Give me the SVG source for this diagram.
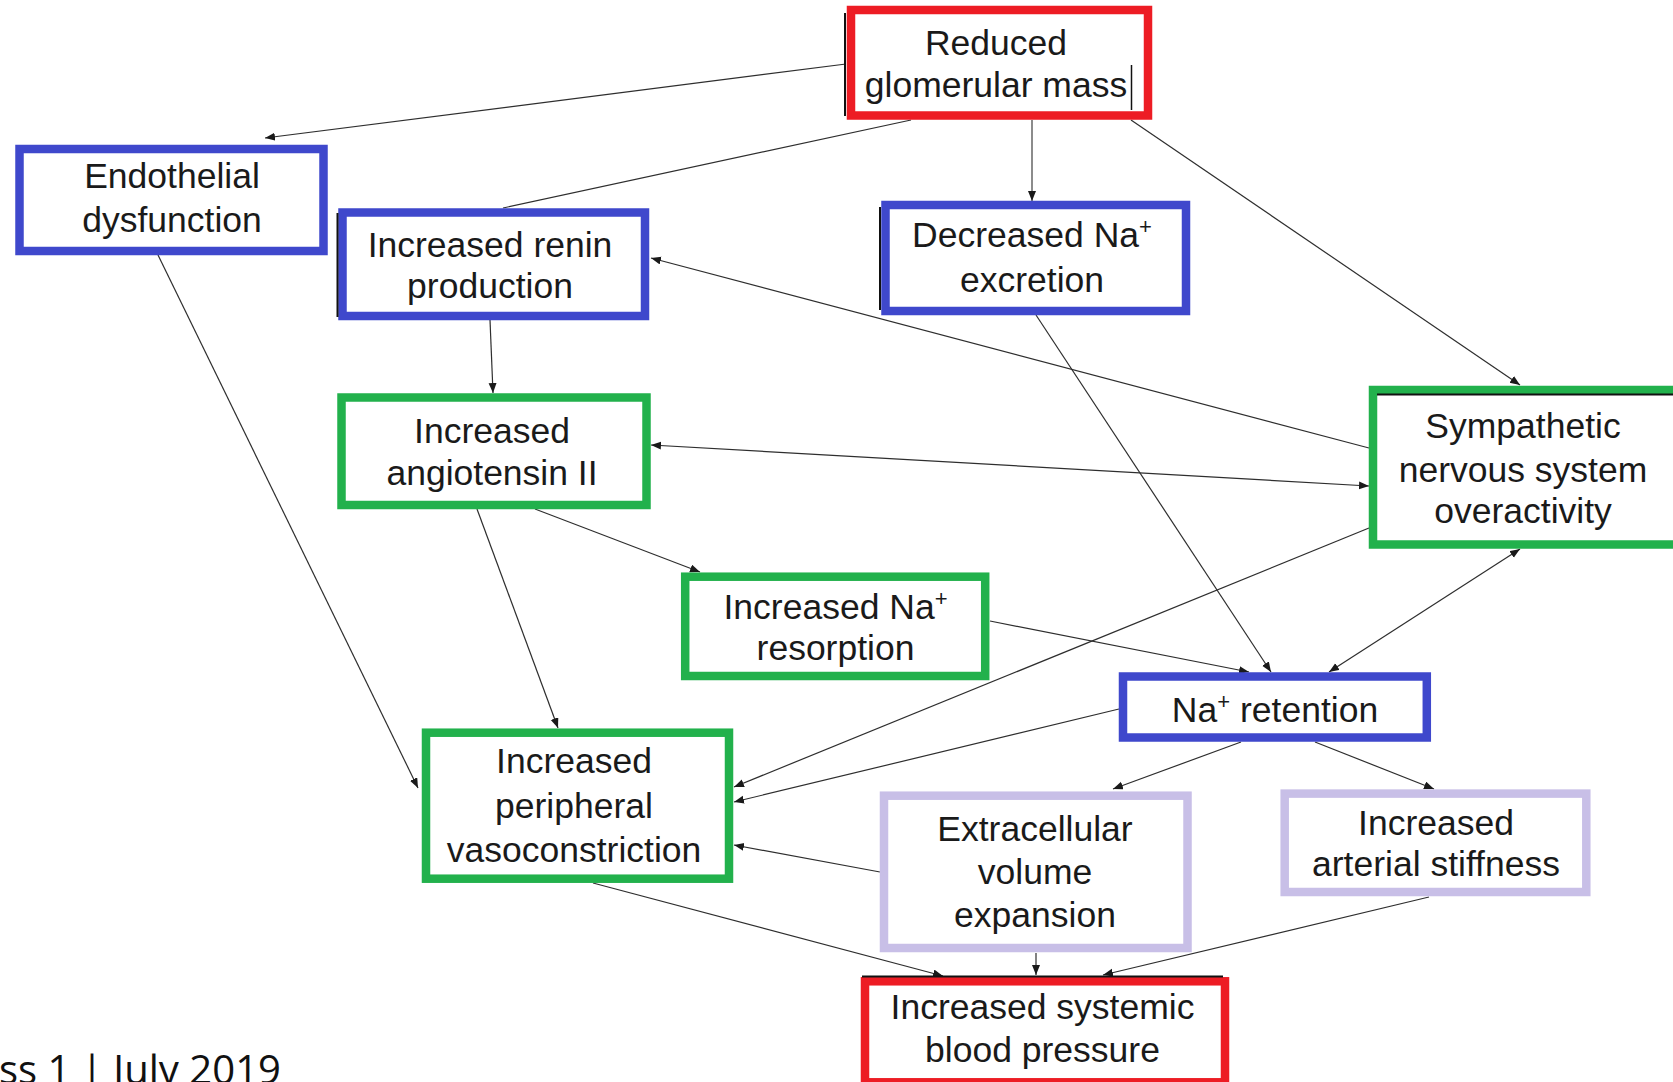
<svg xmlns="http://www.w3.org/2000/svg" width="1673" height="1082" viewBox="0 0 1673 1082">
<style>
  .box { fill: #ffffff; stroke-width: 8.5; }
  .red { stroke: #ed1c24; }
  .blue { stroke: #3f48cc; }
  .green { stroke: #22b14c; }
  .lav { stroke: #c8bfe7; }
  .lbl { font-family: "Liberation Sans", Arial, sans-serif; font-size: 35.5px; fill: #1a1a1a; text-anchor: middle; }
  .sup { font-size: 22px; }
  .edge { stroke: #2e2e2e; stroke-width: 1.2; fill: none; }
  .mark { stroke: #111; stroke-width: 2; }
</style>
<defs>
  <marker id="arr" markerUnits="userSpaceOnUse" markerWidth="11" markerHeight="9" refX="10" refY="4" orient="auto-start-reverse">
    <path d="M0,0 L10,4 L0,8 z" fill="#1a1a1a"/>
  </marker>
</defs>
<rect width="1673" height="1082" fill="#ffffff"/>

<g id="connectors">
  <line class="edge" x1="846" y1="64" x2="265" y2="138" marker-end="url(#arr)"/>
  <line class="edge" x1="911" y1="120" x2="503" y2="208"/>
  <line x1="1032" y1="120" x2="1032" y2="201" stroke="#8c8c8c" stroke-width="2" marker-end="url(#arr)"/>
  <line class="edge" x1="1131" y1="120" x2="1520" y2="385" marker-end="url(#arr)"/>
  <line class="edge" x1="158" y1="255" x2="418" y2="788" marker-end="url(#arr)"/>
  <line class="edge" x1="490" y1="320" x2="493" y2="393" marker-end="url(#arr)"/>
  <line class="edge" x1="1369" y1="448" x2="651" y2="258" marker-end="url(#arr)"/>
  <line class="edge" x1="651" y1="445" x2="1369" y2="486" marker-start="url(#arr)" marker-end="url(#arr)"/>
  <line class="edge" x1="535" y1="509" x2="700" y2="572" marker-end="url(#arr)"/>
  <line class="edge" x1="477" y1="509" x2="558" y2="728" marker-end="url(#arr)"/>
  <line class="edge" x1="1036" y1="315" x2="1271" y2="672" marker-end="url(#arr)"/>
  <line class="edge" x1="1369" y1="528" x2="734" y2="787" marker-end="url(#arr)"/>
  <line class="edge" x1="1520" y1="549" x2="1329" y2="672" marker-start="url(#arr)" marker-end="url(#arr)"/>
  <line class="edge" x1="990" y1="621" x2="1249" y2="672" marker-end="url(#arr)"/>
  <line class="edge" x1="1119" y1="709" x2="734" y2="802" marker-end="url(#arr)"/>
  <line class="edge" x1="880" y1="872" x2="734" y2="845" marker-end="url(#arr)"/>
  <line class="edge" x1="1241" y1="742" x2="1113" y2="789" marker-end="url(#arr)"/>
  <line class="edge" x1="1315" y1="742" x2="1434" y2="789" marker-end="url(#arr)"/>
  <line class="edge" x1="593" y1="883" x2="943" y2="976" marker-end="url(#arr)"/>
  <line class="edge" x1="1036" y1="953" x2="1036" y2="975" marker-end="url(#arr)"/>
  <line class="edge" x1="1429" y1="897" x2="1103" y2="975" marker-end="url(#arr)"/>
</g>

<g id="reduced-glomerular-mass">
  <rect class="box red" x="851" y="10" width="297" height="105.5"/>
  <line class="mark" x1="845" y1="13" x2="845" y2="116"/>
  <text class="lbl" x="996" y="55">Reduced</text>
  <text class="lbl" x="996" y="97">glomerular mass</text>
  <line x1="1131.5" y1="65" x2="1131.5" y2="110" stroke="#111" stroke-width="1.5"/>
</g>

<g id="endothelial-dysfunction">
  <rect class="box blue" x="19.5" y="149" width="304" height="102"/>
  <text class="lbl" x="172" y="188.3">Endothelial</text>
  <text class="lbl" x="172" y="231.7">dysfunction</text>
</g>

<g id="increased-renin-production">
  <rect class="box blue" x="342.5" y="212.5" width="302.5" height="103.5"/>
  <line class="mark" x1="337.5" y1="213" x2="337.5" y2="317"/>
  <text class="lbl" x="490" y="256.7">Increased renin</text>
  <text class="lbl" x="490" y="298.3">production</text>
</g>

<g id="decreased-na-excretion">
  <rect class="box blue" x="885.5" y="205" width="300.5" height="106"/>
  <line class="mark" x1="880" y1="207" x2="880" y2="310"/>
  <text class="lbl" x="1032" y="247.3">Decreased Na<tspan class="sup" dy="-13">+</tspan></text>
  <text class="lbl" x="1032" y="291.7">excretion</text>
</g>

<g id="increased-angiotensin-ii">
  <rect class="box green" x="341.5" y="397.5" width="305" height="107.5"/>
  <text class="lbl" x="492" y="442.7">Increased</text>
  <text class="lbl" x="492" y="485">angiotensin II</text>
</g>

<g id="sympathetic-overactivity">
  <rect class="box green" x="1373" y="390" width="320" height="154.5"/>
  <line class="mark" x1="1377" y1="394.5" x2="1673" y2="394.5"/>
  <text class="lbl" x="1523" y="438.3">Sympathetic</text>
  <text class="lbl" x="1523" y="481.7">nervous system</text>
  <text class="lbl" x="1523" y="523.3">overactivity</text>
</g>

<g id="increased-na-resorption">
  <rect class="box green" x="685.2" y="576.7" width="300" height="99.3"/>
  <text class="lbl" x="835.5" y="619.3">Increased Na<tspan class="sup" dy="-13">+</tspan></text>
  <text class="lbl" x="835.5" y="660">resorption</text>
</g>

<g id="na-retention">
  <rect class="box blue" x="1123" y="676.5" width="303.8" height="61"/>
  <text class="lbl" x="1275" y="721.7">Na<tspan class="sup" dy="-13">+</tspan><tspan dy="13"> retention</tspan></text>
</g>

<g id="increased-peripheral-vasoconstriction">
  <rect class="box green" x="426" y="732.7" width="303" height="146"/>
  <text class="lbl" x="574" y="773.3">Increased</text>
  <text class="lbl" x="574" y="818.3">peripheral</text>
  <text class="lbl" x="574" y="861.7">vasoconstriction</text>
</g>

<g id="extracellular-volume-expansion">
  <rect class="box lav" x="884" y="795.7" width="303.5" height="152.3"/>
  <text class="lbl" x="1035" y="840.8">Extracellular</text>
  <text class="lbl" x="1035" y="884">volume</text>
  <text class="lbl" x="1035" y="927.2">expansion</text>
</g>

<g id="increased-arterial-stiffness">
  <rect class="box lav" x="1284.7" y="793.6" width="301.6" height="98.4"/>
  <text class="lbl" x="1436" y="834.5">Increased</text>
  <text class="lbl" x="1436" y="876">arterial stiffness</text>
</g>

<g id="increased-systemic-blood-pressure">
  <rect class="box red" x="865" y="981.3" width="360" height="101"/>
  <line class="mark" x1="862" y1="976.5" x2="1223" y2="976.5"/>
  <text class="lbl" x="1042.5" y="1019">Increased systemic</text>
  <text class="lbl" x="1042.5" y="1061.7">blood pressure</text>
</g>

<text x="-1" y="1084" font-family="'Open Sans', 'Liberation Sans', sans-serif" font-size="40" fill="#111" textLength="282" lengthAdjust="spacingAndGlyphs">ss 1 | July 2019</text>
</svg>
